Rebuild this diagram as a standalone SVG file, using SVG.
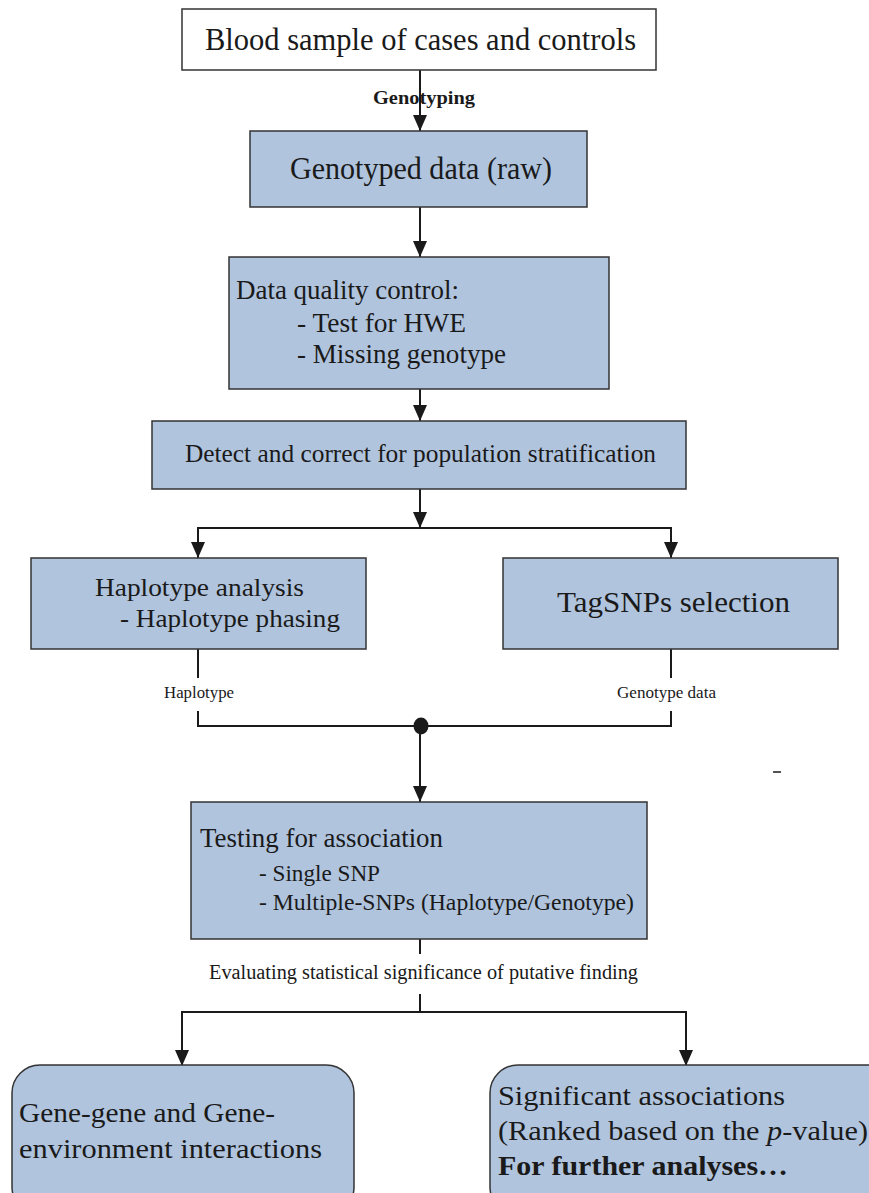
<svg xmlns="http://www.w3.org/2000/svg" width="869" height="1193" viewBox="0 0 869 1193">
<style>
.box{fill:#b0c4de;stroke:#333;stroke-width:1.5}
.wbox{fill:#fff;stroke:#333;stroke-width:1.5}
.ln{stroke:#1a1a1a;stroke-width:2;fill:none}
text{font-family:"Liberation Serif","Times New Roman",serif;fill:#1a1a1a}
</style>
<defs>
<marker id="a" viewBox="0 0 16 14" refX="16" refY="7" markerWidth="16" markerHeight="14" markerUnits="userSpaceOnUse" orient="auto">
<path d="M0,0 L16,7 L0,14 Z" fill="#1a1a1a"/>
</marker>
</defs>
<g id="connectors">
<line class="ln" x1="420" y1="70" x2="420" y2="131" marker-end="url(#a)"/>
<line class="ln" x1="420" y1="207" x2="420" y2="257" marker-end="url(#a)"/>
<line class="ln" x1="420" y1="389" x2="420" y2="421" marker-end="url(#a)"/>
<line class="ln" x1="420" y1="489" x2="420" y2="528" marker-end="url(#a)"/>
<line class="ln" x1="198" y1="528" x2="671" y2="528"/>
<line class="ln" x1="198" y1="527" x2="198" y2="558" marker-end="url(#a)"/>
<line class="ln" x1="671" y1="527" x2="671" y2="558" marker-end="url(#a)"/>
<line class="ln" x1="198" y1="649" x2="198" y2="678"/>
<line class="ln" x1="198" y1="711" x2="198" y2="726"/>
<line class="ln" x1="671" y1="649" x2="671" y2="678"/>
<line class="ln" x1="671" y1="711" x2="671" y2="726"/>
<line class="ln" x1="197" y1="726" x2="672" y2="726"/>
<ellipse cx="421" cy="726" rx="7.5" ry="8.5" fill="#1a1a1a"/>
<line class="ln" x1="420" y1="726" x2="420" y2="802" marker-end="url(#a)"/>
<line class="ln" x1="420" y1="939" x2="420" y2="954"/>
<line class="ln" x1="420" y1="994" x2="420" y2="1012"/>
<line class="ln" x1="181" y1="1012" x2="687" y2="1012"/>
<line class="ln" x1="182" y1="1011" x2="182" y2="1066" marker-end="url(#a)"/>
<line class="ln" x1="686" y1="1011" x2="686" y2="1066" marker-end="url(#a)"/>
<line x1="773" y1="772" x2="781" y2="772" stroke="#1a1a1a" stroke-width="1.5"/>
<text x="373" y="104" font-size="18" font-weight="bold" textLength="102" lengthAdjust="spacingAndGlyphs">Genotyping</text>
<text x="164" y="698" font-size="16" textLength="70" lengthAdjust="spacingAndGlyphs">Haplotype</text>
<text x="617" y="698" font-size="16" textLength="99" lengthAdjust="spacingAndGlyphs">Genotype data</text>
<text x="209" y="979" font-size="20" textLength="429" lengthAdjust="spacingAndGlyphs">Evaluating statistical significance of putative finding</text>
</g>
<g id="blood">
<rect class="wbox" x="182" y="9" width="474" height="61"/>
<text x="205" y="50" font-size="30.5" textLength="431" lengthAdjust="spacingAndGlyphs">Blood sample of cases and controls</text>
</g>
<g id="genotyped">
<rect class="box" x="250" y="131" width="337" height="76"/>
<text x="290" y="179" font-size="30.5" textLength="262" lengthAdjust="spacingAndGlyphs">Genotyped data (raw)</text>
</g>
<g id="qc">
<rect class="box" x="229" y="257" width="380" height="132"/>
<text x="236" y="299" font-size="27" textLength="223" lengthAdjust="spacingAndGlyphs">Data quality control:</text>
<text x="297" y="332" font-size="27" textLength="169" lengthAdjust="spacingAndGlyphs">- Test for HWE</text>
<text x="297" y="363" font-size="27" textLength="209" lengthAdjust="spacingAndGlyphs">- Missing genotype</text>
</g>
<g id="strat">
<rect class="box" x="152" y="421" width="534" height="68"/>
<text x="185" y="462" font-size="25" textLength="471" lengthAdjust="spacingAndGlyphs">Detect and correct for population stratification</text>
</g>
<g id="haplo">
<rect class="box" x="31" y="558" width="335" height="91"/>
<text x="95" y="596" font-size="26" textLength="209" lengthAdjust="spacingAndGlyphs">Haplotype analysis</text>
<text x="120" y="627" font-size="26" textLength="220" lengthAdjust="spacingAndGlyphs">- Haplotype phasing</text>
</g>
<g id="tag">
<rect class="box" x="503" y="558" width="335" height="91"/>
<text x="557" y="612" font-size="30" textLength="233" lengthAdjust="spacingAndGlyphs">TagSNPs selection</text>
</g>
<g id="testing">
<rect class="box" x="191" y="802" width="456" height="137"/>
<text x="200" y="847" font-size="27" textLength="243" lengthAdjust="spacingAndGlyphs">Testing for association</text>
<text x="259" y="881" font-size="23" textLength="121" lengthAdjust="spacingAndGlyphs">- Single SNP</text>
<text x="259" y="910" font-size="23" textLength="375" lengthAdjust="spacingAndGlyphs">- Multiple-SNPs (Haplotype/Genotype)</text>
</g>
<g id="genegene">
<rect class="box" x="12" y="1065" width="342" height="150" rx="28" ry="28"/>
<text x="19" y="1122" font-size="28" textLength="256" lengthAdjust="spacingAndGlyphs">Gene-gene and Gene-</text>
<text x="19" y="1158" font-size="28" textLength="303" lengthAdjust="spacingAndGlyphs">environment interactions</text>
</g>
<g id="signif">
<rect class="box" x="490" y="1065" width="420" height="150" rx="28" ry="28"/>
<text x="498" y="1105" font-size="28" textLength="287" lengthAdjust="spacingAndGlyphs">Significant associations</text>
<text x="498" y="1140" font-size="28" textLength="370" lengthAdjust="spacingAndGlyphs">(Ranked based on the <tspan font-style="italic">p</tspan>-value)</text>
<text x="498" y="1175" font-size="28" font-weight="bold" textLength="290" lengthAdjust="spacingAndGlyphs">For further analyses…</text>
</g>
</svg>
